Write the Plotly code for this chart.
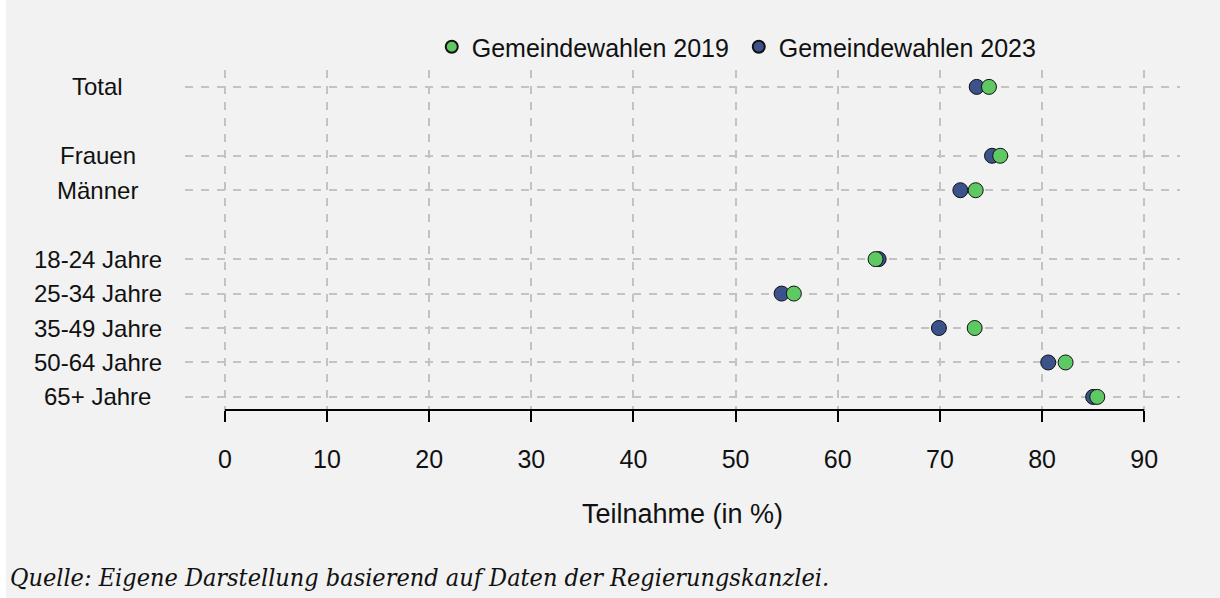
import plotly.graph_objects as go

# Row layout (top to bottom); blank entries are spacer rows
rows = ["Total", " ", "Frauen", "Männer", "  ", "18-24 Jahre", "25-34 Jahre",
        "35-49 Jahre", "50-64 Jahre", "65+ Jahre"]
categories = ["Total", "Frauen", "Männer", "18-24 Jahre", "25-34 Jahre",
              "35-49 Jahre", "50-64 Jahre", "65+ Jahre"]
values_2019 = [74.8, 75.9, 73.5, 63.7, 55.7, 73.4, 82.3, 85.4]
values_2023 = [73.6, 75.1, 72.0, 64.0, 54.5, 69.9, 80.6, 85.0]
x_ticks = [0, 10, 20, 30, 40, 50, 60, 70, 80, 90]

green = "#5ec962"
navy = "#3b528b"
grid = "#c3c3c3"
bg = "#f2f2f2"
font = "Liberation Sans"

fig = go.Figure()
fig.add_trace(go.Scatter(
    x=values_2023, y=categories, mode="markers", name="Gemeindewahlen 2023",
    marker=dict(color=navy, size=15, line=dict(color="#111111", width=1)),
    legendrank=2))
fig.add_trace(go.Scatter(
    x=values_2019, y=categories, mode="markers", name="Gemeindewahlen 2019",
    marker=dict(color=green, size=15, line=dict(color="#111111", width=1)),
    legendrank=1))

# category labels centred to the left of the plot
for c in categories:
    fig.add_annotation(x=-0.0875, xref="paper", y=c, yref="y", text=c,
                       showarrow=False, xanchor="center", yanchor="middle",
                       font=dict(family=font, size=24, color="#111111"))

# bottom axis line spanning only 0..90
fig.add_shape(type="line", xref="x", yref="paper", x0=x_ticks[0], x1=x_ticks[-1],
              y0=0, y1=0, line=dict(color="black", width=2))

fig.add_annotation(x=-0.178, xref="paper", y=-0.494, yref="paper",
                   text="<i>Quelle: Eigene Darstellung basierend auf Daten der Regierungskanzlei.</i>",
                   showarrow=False, xanchor="left", yanchor="middle",
                   font=dict(family="DejaVu Serif Condensed, DejaVu Serif", size=25,
                             color="#111111"))

fig.update_layout(
    width=1220, height=598,
    paper_bgcolor=bg, plot_bgcolor=bg,
    margin=dict(l=177, r=48, t=62, b=196),
    font=dict(family=font, size=24, color="#111111"),
    showlegend=True,
    legend=dict(orientation="h", x=0.248, xanchor="left", y=1.0676, yanchor="middle",
                itemsizing="constant", entrywidth=262, entrywidthmode="pixels",
                traceorder="normal", bgcolor="rgba(0,0,0,0)",
                font=dict(family=font, size=25, color="#111111")),
    xaxis=dict(range=[-3.9, 93.5], tickmode="array", tickvals=x_ticks,
               ticks="outside", ticklen=11, tickwidth=1.5, tickcolor="black",
               showline=False, zeroline=False, ticklabelstandoff=16,
               showgrid=True, gridcolor=grid, gridwidth=1.5, griddash="8px,8px",
               tickfont=dict(family=font, size=25, color="#111111"),
               title=dict(text="Teilnahme (in %)", standoff=32,
                          font=dict(family=font, size=27, color="#111111"))),
    yaxis=dict(type="category", categoryarray=rows, categoryorder="array",
               range=[9.38, -0.49], tickmode="array", tickvals=categories,
               showticklabels=False, ticks="", showline=False, zeroline=False,
               showgrid=True, gridcolor=grid, gridwidth=1.5, griddash="8px,8px"),
)

page_bg = ("document.body.style.background="
           "'linear-gradient(to right, #ffffff 6px, #f2f2f2 6px)';")
fig.write_html("out.html", post_script=page_bg)
